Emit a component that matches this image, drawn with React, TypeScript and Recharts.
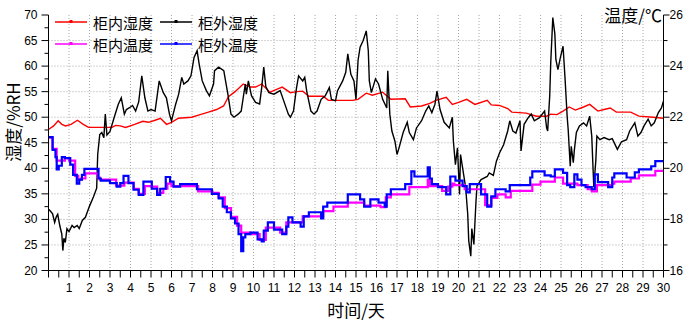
import React from 'react';
import { LineChart, Line, XAxis, YAxis, CartesianGrid } from 'recharts';

// 柜内湿度 (%RH): [day, value]
const innerHum: [number, number][] = [
  [0, 47.6], [0.25, 48.3], [0.47, 49.3], [0.65, 48.6], [0.83, 48.3], [1.1, 48.6], [1.41, 49.4], [1.7, 48.6],
  [1.95, 48.0], [2.5, 48.0], [3.1, 48.0], [3.27, 48.4], [3.5, 48.3], [3.76, 48.0], [4.2, 48.6], [4.6, 49.2],
  [4.88, 49.0], [5.2, 49.4], [5.46, 49.8], [5.76, 48.6], [6.0, 49.0], [6.34, 49.8], [6.98, 50.0], [7.4, 50.5],
  [7.8, 51.0], [8.2, 51.5], [8.54, 52.2], [8.78, 54.0], [9.1, 55.0], [9.5, 56.5], [9.85, 55.9], [10.1, 55.9],
  [10.4, 56.5], [10.8, 54.9], [11.1, 55.4], [11.4, 55.9], [11.8, 54.8], [12.1, 55.0], [12.4, 55.1], [12.7, 54.1],
  [13.4, 54.1], [13.65, 53.3], [14.2, 53.3], [14.83, 53.3], [15.1, 53.5], [15.5, 54.7], [15.8, 54.3], [16.3, 54.9],
  [16.7, 53.5], [17.4, 53.6], [17.65, 52.0], [18.2, 52.2], [18.6, 52.7], [18.9, 53.3], [19.4, 53.9], [19.7, 52.5],
  [20.0, 52.9], [20.4, 53.5], [20.8, 52.5], [21.4, 53.3], [21.6, 52.4], [22.0, 52.3], [22.4, 51.7], [22.6, 51.0],
  [23.3, 50.8], [23.8, 50.2], [24.3, 50.2], [24.5, 50.6], [24.8, 50.5], [25.1, 51.2], [25.4, 52.0], [25.7, 51.4],
  [26.1, 52.0], [26.4, 52.5], [26.8, 51.2], [27.1, 51.5], [27.4, 51.8], [27.7, 51.0], [28.4, 51.0], [28.8, 50.2],
  [29.5, 50.0], [30, 49.8],
];

// 柜外湿度 (%RH)
const outerHum: [number, number][] = [
  [0, 32.0], [0.1, 31.6], [0.2, 31.1], [0.3, 29.4], [0.38, 30.5], [0.45, 31.0], [0.55, 28.8], [0.65, 27.1],
  [0.7, 23.9], [0.75, 26.3], [0.82, 25.5], [0.9, 28.2], [1.0, 27.6], [1.15, 28.8], [1.25, 28.4], [1.4, 28.8],
  [1.5, 28.2], [1.65, 29.8], [1.8, 30.4], [2.0, 32.6], [2.2, 34.5], [2.35, 36.1], [2.4, 42.7], [2.5, 46.6],
  [2.6, 47.0], [2.7, 46.0], [2.77, 50.6], [2.85, 46.5], [3.0, 47.2], [3.2, 49.9], [3.4, 52.5], [3.55, 53.8],
  [3.7, 50.6], [3.8, 51.5], [4.0, 52.0], [4.1, 52.3], [4.25, 51.2], [4.4, 53.0], [4.55, 58.1], [4.7, 53.8],
  [4.85, 51.2], [5.0, 51.5], [5.2, 51.2], [5.4, 57.1], [5.6, 54.8], [5.75, 53.8], [5.9, 50.6], [6.0, 49.3],
  [6.2, 52.5], [6.35, 54.5], [6.5, 57.8], [6.6, 56.5], [6.8, 57.1], [6.95, 58.1], [7.1, 61.7], [7.25, 63.0],
  [7.35, 60.4], [7.5, 57.1], [7.7, 55.2], [7.85, 54.2], [8.05, 56.5], [8.1, 59.1], [8.3, 59.8], [8.55, 59.1],
  [8.75, 54.5], [8.9, 50.6], [9.05, 50.0], [9.25, 50.6], [9.4, 51.2], [9.6, 56.5], [9.65, 54.5], [9.75, 57.1],
  [9.9, 54.2], [10.1, 52.9], [10.3, 52.6], [10.4, 55.8], [10.5, 59.8], [10.6, 56.0], [10.75, 54.8], [11.0, 54.5],
  [11.3, 55.2], [11.5, 52.9], [11.7, 50.6], [11.8, 50.0], [11.95, 51.2], [12.1, 55.8], [12.2, 58.1], [12.4, 57.1],
  [12.5, 57.8], [12.6, 55.0], [12.8, 51.2], [12.95, 50.6], [13.1, 51.2], [13.3, 53.5], [13.5, 54.2], [13.7, 55.8],
  [13.8, 53.5], [14.0, 53.2], [14.1, 55.2], [14.35, 57.1], [14.5, 58.8], [14.6, 62.4], [14.75, 58.4], [14.9, 57.1],
  [15.0, 53.5], [15.1, 61.1], [15.2, 63.7], [15.35, 65.0], [15.5, 66.9], [15.6, 63.0], [15.65, 57.1], [15.75, 54.8],
  [15.95, 57.5], [16.1, 56.5], [16.3, 53.5], [16.5, 51.8], [16.55, 59.1], [16.65, 50.6], [16.75, 47.3], [16.9, 45.3],
  [17.0, 42.7], [17.1, 44.0], [17.3, 47.0], [17.5, 49.0], [17.6, 47.0], [17.8, 45.6], [17.95, 47.9], [18.2, 49.3],
  [18.4, 51.2], [18.55, 52.2], [18.7, 50.9], [18.85, 52.5], [18.95, 55.1], [19.1, 51.5], [19.3, 49.0], [19.55, 47.9],
  [19.7, 50.0], [19.75, 45.3], [19.85, 40.7], [19.95, 44.0], [20.05, 34.9], [20.1, 42.7], [20.2, 40.1], [20.35, 36.2],
  [20.45, 31.0], [20.5, 25.8], [20.6, 22.8], [20.65, 28.2], [20.75, 25.1], [20.85, 33.3], [20.9, 36.5], [21.1, 37.8],
  [21.4, 38.4], [21.5, 39.1], [21.7, 38.6], [21.85, 41.4], [22.0, 43.0], [22.2, 44.6], [22.4, 47.3], [22.5, 49.3],
  [22.65, 47.3], [22.8, 46.9], [23.0, 49.3], [23.05, 43.4], [23.2, 48.6], [23.4, 49.9], [23.55, 50.6], [23.7, 49.3],
  [23.95, 49.9], [24.2, 51.2], [24.3, 47.9], [24.35, 47.3], [24.45, 54.2], [24.5, 60.7], [24.6, 69.5], [24.7, 66.3],
  [24.75, 61.3], [24.85, 59.3], [24.95, 61.3], [25.1, 63.9], [25.2, 57.4], [25.3, 50.2], [25.35, 47.6], [25.45, 40.4],
  [25.5, 44.3], [25.6, 41.1], [25.65, 43.5], [25.75, 47.0], [25.9, 48.3], [26.1, 48.9], [26.25, 48.3], [26.4, 50.2],
  [26.5, 46.3], [26.6, 36.3], [26.7, 41.6], [26.75, 46.3], [26.9, 45.6], [27.1, 46.0], [27.35, 45.6], [27.5, 45.8],
  [27.75, 43.7], [27.95, 45.2], [28.2, 45.6], [28.35, 47.3], [28.6, 48.9], [28.75, 46.3], [28.9, 47.0], [29.05, 48.3],
  [29.25, 49.6], [29.4, 48.3], [29.55, 48.9], [29.75, 50.9], [29.9, 51.8], [30, 53.2],
];

// 柜内温度 (℃)
const innerTemp: [number, number][] = [
  [0, 21.2], [0.2, 20.76], [0.4, 20.3], [0.8, 20.4], [1.0, 20.3], [1.3, 19.7], [1.45, 19.56], [1.6, 19.6],
  [1.8, 19.8], [2.4, 19.64], [2.5, 19.56], [3.3, 19.32], [3.7, 19.44], [4.15, 19.2], [4.4, 19.0], [4.7, 19.3],
  [5.0, 19.28], [5.3, 19.04], [5.6, 19.2], [5.8, 19.4], [6.0, 19.3], [7.3, 19.1], [8.0, 19.04], [8.3, 18.86],
  [8.6, 18.44], [8.9, 18.1], [9.2, 17.76], [9.4, 17.48], [9.85, 17.42], [10.3, 17.2], [10.6, 17.68], [11.3, 17.48],
  [11.6, 17.88], [12.4, 18.12], [13.4, 18.32], [13.9, 18.5], [14.6, 18.66], [15.4, 18.54], [16.2, 18.48], [16.45, 18.86],
  [16.7, 18.98], [17.6, 19.26], [18.5, 19.56], [18.6, 19.3], [19.2, 19.12], [19.5, 19.28], [19.7, 19.4], [19.8, 19.34],
  [20.3, 19.18], [21.3, 18.56], [21.6, 18.84], [21.9, 18.98], [22.3, 18.86], [22.55, 19.12], [23.6, 19.36], [24.0, 19.48],
  [24.7, 19.64], [25.1, 19.4], [25.8, 19.34], [26.3, 19.18], [26.5, 19.1], [26.75, 19.34], [27.5, 19.4], [27.6, 19.48],
  [28.4, 19.6], [28.8, 19.72], [29.6, 19.9], [30, 19.9],
];

// 柜外温度 (℃)
const outerTemp: [number, number][] = [
  [0, 21.22], [0.2, 20.72], [0.34, 20.44], [0.4, 19.96], [0.5, 20.1], [0.65, 20.44], [0.8, 20.4], [1.06, 20.14],
  [1.2, 19.74], [1.38, 19.4], [1.5, 19.56], [1.63, 19.74], [1.75, 19.98], [2.44, 19.6], [2.55, 19.52], [3.0, 19.42],
  [3.33, 19.28], [3.5, 19.42], [3.66, 19.7], [3.9, 19.42], [4.15, 19.16], [4.4, 18.96], [4.63, 19.48], [5.04, 19.2],
  [5.3, 18.96], [5.45, 19.2], [5.72, 19.66], [5.93, 19.48], [6.1, 19.28], [6.42, 19.38], [7.24, 19.18], [7.97, 19.0],
  [8.3, 18.82], [8.5, 18.5], [8.7, 18.28], [8.9, 18.04], [9.1, 17.84], [9.27, 17.42], [9.4, 16.76], [9.5, 17.3],
  [9.6, 17.42], [9.85, 17.48], [10.2, 17.22], [10.4, 17.14], [10.5, 17.56], [10.7, 17.88], [11.0, 17.6], [11.4, 17.42],
  [11.6, 17.72], [11.7, 18.08], [11.9, 17.88], [12.3, 17.72], [12.45, 18.12], [12.7, 18.28], [13.3, 18.04], [13.4, 18.5],
  [13.6, 18.66], [14.6, 18.98], [15.2, 18.78], [15.4, 18.5], [15.7, 18.78], [16.1, 18.66], [16.4, 18.5], [16.5, 18.98],
  [16.7, 19.18], [17.4, 19.38], [17.7, 19.88], [17.85, 19.68], [18.5, 20.04], [18.6, 19.6], [18.7, 19.38], [19.0, 19.26],
  [19.4, 18.98], [19.6, 19.68], [19.85, 19.52], [20.2, 19.3], [20.4, 19.06], [20.55, 19.38], [21.1, 18.98], [21.4, 18.5],
  [21.6, 18.9], [21.8, 19.18], [22.3, 19.1], [22.5, 19.34], [23.5, 19.64], [23.6, 19.88], [24.2, 19.72], [24.5, 19.68],
  [24.7, 19.96], [25.1, 19.82], [25.3, 19.34], [25.45, 19.26], [25.65, 19.76], [25.8, 19.56], [26.0, 19.34], [26.2, 19.26],
  [26.5, 19.18], [26.65, 19.76], [26.8, 19.46], [27.3, 19.26], [27.5, 19.64], [27.6, 19.8], [28.2, 19.64], [28.6, 19.84],
  [28.8, 19.96], [29.4, 20.08], [29.6, 20.28], [30, 20.28],
];

const dayTicks = Array.from({ length: 61 }, (_, i) => i * 0.5);
const humTicks = Array.from({ length: 21 }, (_, i) => 20 + i * 2.5);
const tempTicks = [16, 17, 18, 19, 20, 21, 22, 23, 24, 25, 26];
const gridDays = Array.from({ length: 29 }, (_, i) => i + 1);
const gridHum = [25, 30, 35, 40, 45, 50, 55, 60, 65];

const toPts = (arr: [number, number][]) => arr.map(([d, v]) => ({ d, v }));

const tickFont = { fontFamily: '"Liberation Sans", Arial, sans-serif', fontSize: 12 };
const cjk = '"Noto Sans CJK SC", "Noto Sans", sans-serif';

const XTick = (props: any) => {
  const { x, y, payload } = props;
  const v = payload.value;
  const major = Number.isInteger(v);
  return (
    <g>
      <line x1={x} x2={x} y1={y} y2={y + 7} stroke="#000" />
      {major && v > 0 && (
        <text x={x} y={y + 17} textAnchor="middle" dominantBaseline="central" fill="#000" style={tickFont}>{v}</text>
      )}
    </g>
  );
};

const LeftTick = (props: any) => {
  const { x, y, payload } = props;
  const v = payload.value;
  const major = v % 5 === 0;
  return (
    <g>
      <line x1={x - (major ? 7 : 4)} x2={x} y1={y} y2={y} stroke="#000" />
      {major && (
        <text x={x - 11} y={y} textAnchor="end" dominantBaseline="central" fill="#000" style={tickFont}>{v}</text>
      )}
    </g>
  );
};

const RightTick = (props: any) => {
  const { x, y, payload } = props;
  const v = payload.value;
  const major = v % 2 === 0;
  return (
    <g>
      <line x1={x} x2={x + (major ? 6 : 4)} y1={y} y2={y} stroke="#000" />
      {major && (
        <text x={x + 6} y={y} textAnchor="start" dominantBaseline="central" fill="#000" style={tickFont}>{v}</text>
      )}
    </g>
  );
};

const legendItems = [
  { name: '柜内湿度', color: '#ff0000', lx: 55, ty: 22 },
  { name: '柜外湿度', color: '#000000', lx: 160, ty: 22 },
  { name: '柜内温度', color: '#ff00ff', lx: 55, ty: 44 },
  { name: '柜外温度', color: '#0000ff', lx: 160, ty: 44 },
];

export default function App() {
  return (
    <div style={{ position: 'absolute', left: 0, top: 0, width: 698, height: 324, background: '#fff' }}>
      <LineChart width={698} height={324} margin={{ top: 15, right: 0.5, bottom: 23.5, left: 0.5 }}>
        <CartesianGrid
          xAxisId="x"
          yAxisId="h"
          horizontalValues={gridHum}
          verticalValues={gridDays}
          stroke="#a8a8a8"
          strokeDasharray="1 2"
        />
        <XAxis
          xAxisId="x"
          dataKey="d"
          type="number"
          domain={[0, 30]}
          ticks={dayTicks}
          interval={0}
          height={30}
          tickSize={0}
          tickMargin={0}
          tickLine={false}
          tick={<XTick />}
          axisLine={{ stroke: '#000' }}
          allowDataOverflow
        />
        <YAxis
          yAxisId="h"
          orientation="left"
          type="number"
          domain={[20, 70]}
          ticks={humTicks}
          interval={0}
          width={48}
          tickSize={0}
          tickMargin={0}
          tickLine={false}
          tick={<LeftTick />}
          axisLine={{ stroke: '#000' }}
          allowDataOverflow
        />
        <YAxis
          yAxisId="t"
          orientation="right"
          type="number"
          domain={[16, 26]}
          ticks={tempTicks}
          interval={0}
          width={34}
          tickSize={0}
          tickMargin={0}
          tickLine={false}
          tick={<RightTick />}
          axisLine={{ stroke: '#000' }}
          allowDataOverflow
        />
        <Line xAxisId="x" yAxisId="h" data={toPts(innerHum)} dataKey="v" type="linear" stroke="#ff0000" strokeWidth={1.4} dot={false} isAnimationActive={false} />
        <Line xAxisId="x" yAxisId="h" data={toPts(outerHum)} dataKey="v" type="linear" stroke="#000000" strokeWidth={1.4} dot={false} isAnimationActive={false} />
        <Line xAxisId="x" yAxisId="t" data={toPts(innerTemp)} dataKey="v" type="stepAfter" stroke="#ff00ff" strokeWidth={2.2} dot={false} isAnimationActive={false} />
        <Line xAxisId="x" yAxisId="t" data={toPts(outerTemp)} dataKey="v" type="stepAfter" stroke="#0000ff" strokeWidth={2.2} dot={false} isAnimationActive={false} />
      </LineChart>

      {/* legend, titles */}
      <svg width={698} height={324} style={{ position: 'absolute', left: 0, top: 0, pointerEvents: 'none' }}>
        {legendItems.map((it) => (
          <g key={it.name}>
            <line x1={it.lx} x2={it.lx + 32} y1={it.ty} y2={it.ty} stroke={it.color} strokeWidth={1.5} />
            <rect x={it.lx + 14.5} y={it.ty - 2} width={3} height={3} fill={it.color} />
            <text x={it.lx + 38} y={it.ty} dominantBaseline="central" fontFamily={cjk} fontSize={15} fill="#000">
              {it.name}
            </text>
          </g>
        ))}
        <text x={662} y={14} textAnchor="end" dominantBaseline="central" fontFamily={cjk} fontSize={17} fill="#000">
          温度/℃
        </text>
        <text x={356} y={309} textAnchor="middle" dominantBaseline="central" fontFamily={cjk} fontSize={17} fill="#000">
          时间/天
        </text>
        <text
          x={12}
          y={122}
          transform="rotate(-90 12 122)"
          textAnchor="middle"
          dominantBaseline="central"
          fontFamily={cjk}
          fontSize={17}
          fill="#000"
        >
          湿度/%RH
        </text>
      </svg>
    </div>
  );
}
